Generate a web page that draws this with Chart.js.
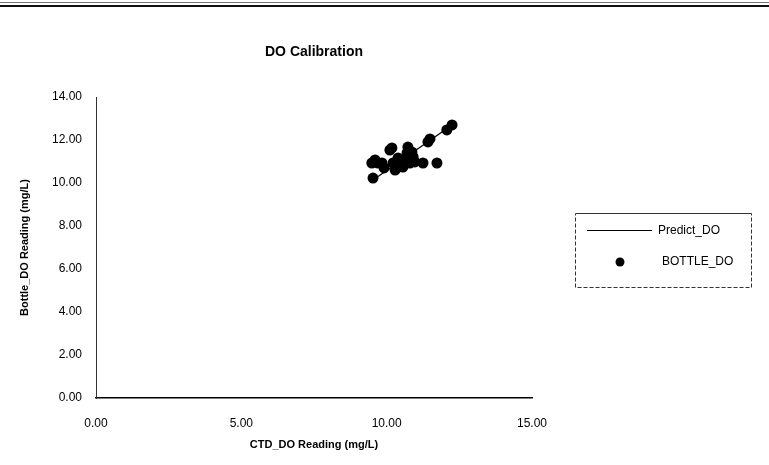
<!DOCTYPE html>
<html>
<head>
<meta charset="utf-8">
<script src="https://cdn.jsdelivr.net/npm/chart.js@4"></script>
<style>
    html, body { margin: 0; padding: 0; background: #fff; }
    #wrap { position: relative; width: 769px; height: 465px; }
    .edge1 { position: absolute; left: 0; top: 2px; width: 769px; height: 1px; background: #777; }
    .edge2 { position: absolute; left: 0; top: 5px; width: 769px; height: 2px; background: #111; }
</style>
</head>
<body>
<div id="wrap">
    <canvas id="doChart" width="769" height="465"></canvas>
    <div class="edge1"></div>
    <div class="edge2"></div>
</div>
<script>
// CTD vs bottle dissolved oxygen readings (mg/L)
const ctdDo = [9.53, 9.60, 9.49, 9.70, 9.84, 10.18, 10.11, 10.22, 10.29, 10.39, 10.56, 10.70,
    10.87, 10.91, 10.80, 10.56, 10.97, 11.25, 11.73, 11.42, 11.49, 12.07, 12.25, 10.39, 10.73, 9.91];
const bottleDo = [10.23, 11.07, 10.93, 10.93, 10.93, 11.63, 11.53, 10.93, 10.60, 10.74, 11.07, 11.40,
    11.44, 11.21, 10.93, 10.74, 10.98, 10.93, 10.93, 11.91, 12.05, 12.47, 12.70, 11.16, 11.67, 10.70];

// fitted line end points
const predictX = [9.43, 12.35];
const predictY = [10.05, 12.79];

const xTicks = [0, 5, 10, 15];
const yTicks = [0, 2, 4, 6, 8, 10, 12, 14];

const FONT = '"Liberation Sans", Arial, sans-serif';

// Title and legend box drawn like the original sheet
const sheetPlugin = {
    id: 'sheetPlugin',
    afterDraw(chart) {
        const ctx = chart.ctx;
        const area = chart.chartArea;
        ctx.save();
        ctx.fillStyle = '#000';
        ctx.font = 'bold 14px ' + FONT;
        ctx.textAlign = 'center';
        ctx.textBaseline = 'middle';
        ctx.fillText('DO Calibration', (area.left + area.right) / 2, 52);

        // legend
        const lx = 575, ly = 213, lw = 176, lh = 74;
        ctx.strokeStyle = '#333';
        ctx.lineWidth = 1;
        ctx.setLineDash([4, 2]);
        ctx.strokeRect(lx + 0.5, ly + 0.5, lw, lh);
        ctx.setLineDash([]);
        ctx.beginPath();
        ctx.moveTo(lx + 1, ly + 0.5);
        ctx.lineTo(lx + lw, ly + 0.5);
        ctx.stroke();

        const ds = chart.data.datasets;
        ctx.strokeStyle = ds[0].borderColor;
        ctx.lineWidth = 1;
        ctx.beginPath();
        ctx.moveTo(587, 230.5);
        ctx.lineTo(652, 230.5);
        ctx.stroke();

        ctx.fillStyle = ds[1].backgroundColor;
        ctx.beginPath();
        ctx.arc(620, 262, 4.5, 0, Math.PI * 2);
        ctx.fill();

        ctx.fillStyle = '#000';
        ctx.font = '12px ' + FONT;
        ctx.textAlign = 'left';
        ctx.fillText(ds[0].label, 658, 231);
        ctx.fillText(ds[1].label, 662, 262);
        ctx.restore();
    }
};

const chart = new Chart(document.getElementById('doChart'), {
    type: 'scatter',
    data: {
        datasets: [
            {
                label: 'Predict_DO',
                data: predictX.map((x, i) => ({ x: x, y: predictY[i] })),
                showLine: true,
                borderColor: '#000',
                borderWidth: 1.2,
                pointRadius: 0,
                order: 1
            },
            {
                label: 'BOTTLE_DO',
                data: ctdDo.map((x, i) => ({ x: x, y: bottleDo[i] })),
                backgroundColor: '#000',
                borderColor: '#000',
                pointRadius: 5.5,
                pointBorderWidth: 0,
                order: 0
            }
        ]
    },
    options: {
        responsive: false,
        animation: false,
        layout: { padding: { top: 97, right: 237, left: 0, bottom: 0 } },
        plugins: {
            legend: { display: false },
            tooltip: { enabled: false }
        },
        scales: {
            x: {
                type: 'linear',
                min: 0,
                max: 15,
                afterFit: s => { s.height = 67; },
                afterBuildTicks: s => { s.ticks = xTicks.map(v => ({ value: v })); },
                grid: { display: false },
                border: { display: true, color: '#000', width: 1.5 },
                ticks: {
                    padding: 10,
                    color: '#000',
                    font: { family: FONT, size: 12 },
                    callback: v => v.toFixed(2)
                },
                title: {
                    display: true,
                    text: 'CTD_DO Reading (mg/L)',
                    color: '#000',
                    font: { family: FONT, size: 11, weight: 'bold' },
                    padding: { top: 13, bottom: 13 }
                }
            },
            y: {
                type: 'linear',
                min: 0,
                max: 14,
                afterFit: s => { s.width = 96; },
                afterBuildTicks: s => { s.ticks = yTicks.map(v => ({ value: v })); },
                grid: { display: false },
                border: { display: true, color: '#333', width: 1, dash: [3, 2] },
                ticks: {
                    padding: 6,
                    color: '#000',
                    font: { family: FONT, size: 12 },
                    callback: v => v.toFixed(2)
                },
                title: {
                    display: true,
                    text: 'Bottle_DO Reading (mg/L)',
                    color: '#000',
                    font: { family: FONT, size: 11, weight: 'bold' },
                    padding: { top: 18, bottom: 18 }
                }
            }
        }
    },
    plugins: [sheetPlugin]
});
</script>
</body>
</html>
